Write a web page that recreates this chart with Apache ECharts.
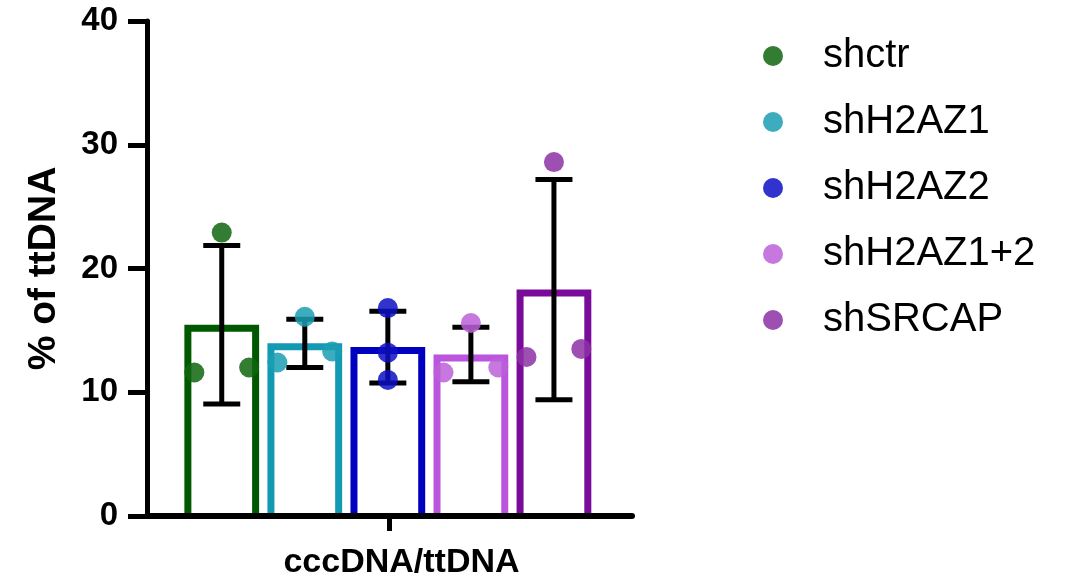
<!DOCTYPE html>
<html>
<head>
<meta charset="utf-8">
<script src="https://cdn.jsdelivr.net/npm/echarts@6/dist/echarts.min.js"></script>
<style>
html,body{margin:0;padding:0;background:#fff;}
#chart{width:1071px;height:582px;}
</style>
</head>
<body>
<div id="chart"></div>
<script>
// ---- data ----
var groups = ['shctr', 'shH2AZ1', 'shH2AZ2', 'shH2AZ1+2', 'shSRCAP'];
var category = ['cccDNA/ttDNA'];
var means = [15.45, 13.95, 13.65, 13.05, 18.3];
var sds = [6.4, 1.95, 2.9, 2.2, 8.9];
var points = [
  [22.9, 11.6, 12.0],
  [16.1, 12.4, 13.3],
  [16.8, 13.2, 11.0],
  [15.6, 11.6, 12.0],
  [28.6, 12.85, 13.5]
];
var pointOffsets = [
  [0, -0.33, 0.33],
  [0, -0.33, 0.33],
  [0, 0, 0],
  [0, -0.33, 0.33],
  [0, -0.33, 0.33]
];
var yTicks = [0, 10, 20, 30, 40];

// ---- styles ----
var barColors = ['#005800', '#129ab5', '#0000c0', '#bb55dd', '#7a0a9a'];
var pointColors = ['#0e660e', '#1a9db3', '#0e0ec4', '#bc60d8', '#8d31a5'];
var FONT = '"Liberation Sans", Arial, Helvetica, sans-serif';

var chart = echarts.init(document.getElementById('chart'), null, {renderer: 'canvas'});

var barData = means.map(function (m, i) { return {value: [i + 1, m], itemStyle: {color: barColors[i]}}; });
var errData = means.map(function (m, i) { return [i + 1, m, sds[i]]; });

var series = [];
series.push({
  type: 'custom',
  name: 'bars',
  xAxisIndex: 0,
  z: 2,
  data: barData,
  renderItem: function (params, api) {
    var x = api.value(0), v = api.value(1);
    var top = api.coord([x, v]);
    var base = api.coord([x, 0]);
    var w = api.size([0.9, 0])[0];
    var lw = 7;
    var l = top[0] - w / 2 + lw / 2, r = top[0] + w / 2 - lw / 2, t = top[1] + lw / 2;
    return {
      type: 'polyline',
      shape: {points: [[l, base[1]], [l, t], [r, t], [r, base[1]]]},
      style: {fill: null, stroke: api.visual('color'), lineWidth: lw, lineJoin: 'miter'}
    };
  }
});
series.push({
  type: 'custom',
  name: 'err',
  xAxisIndex: 0,
  z: 3,
  data: errData,
  renderItem: function (params, api) {
    var x = api.value(0), m = api.value(1), s = api.value(2);
    var hi = api.coord([x, m + s]);
    var lo = api.coord([x, m - s]);
    var hw = 18.5;
    var st = {stroke: '#000', lineWidth: 5};
    return {
      type: 'group',
      children: [
        {type: 'line', shape: {x1: hi[0], y1: hi[1], x2: lo[0], y2: lo[1]}, style: st},
        {type: 'line', shape: {x1: hi[0] - hw, y1: hi[1], x2: hi[0] + hw, y2: hi[1]}, style: st},
        {type: 'line', shape: {x1: lo[0] - hw, y1: lo[1], x2: lo[0] + hw, y2: lo[1]}, style: st}
      ]
    };
  }
});
groups.forEach(function (g, i) {
  series.push({
    type: 'scatter',
    name: g,
    xAxisIndex: 0,
    z: 4,
    symbol: 'circle',
    symbolSize: 20,
    itemStyle: {color: pointColors[i], opacity: 0.85},
    emphasis: {disabled: true},
    data: points[i].map(function (v, k) { return [i + 1 + pointOffsets[i][k], v]; })
  });
});

var option = {
  animation: false,
  backgroundColor: '#fff',
  grid: {left: 147, right: 439, top: 21, bottom: 66, containLabel: false},
  legend: {
    data: groups,
    orient: 'vertical',
    left: 758,
    top: 30,
    icon: 'circle',
    itemWidth: 20,
    itemHeight: 20,
    itemGap: 24,
    selectedMode: false,
    textStyle: {fontFamily: FONT, fontSize: 40, color: '#000', lineHeight: 42, padding: [0, 0, 0, 35]}
  },
  xAxis: [
    {
      type: 'value',
      min: 0.1,
      max: 5.94,
      position: 'bottom',
      z: 10,
      axisLine: {show: true, onZero: false, lineStyle: {color: '#000', width: 6}},
      axisTick: {show: false},
      axisLabel: {show: false},
      splitLine: {show: false}
    },
    {
      type: 'category',
      data: category,
      position: 'bottom',
      z: 10,
      axisLine: {show: false},
      axisTick: {show: true, alignWithLabel: true, length: 15, lineStyle: {color: '#000', width: 5}},
      axisLabel: {show: true, margin: 30, padding: [0, 0, 0, 24], fontFamily: FONT, fontSize: 34, fontWeight: 'bold', color: '#000'},
      splitLine: {show: false}
    }
  ],
  yAxis: {
    type: 'value',
    min: yTicks[0],
    max: yTicks[yTicks.length - 1],
    interval: 10,
    z: 10,
    name: '% of ttDNA',
    nameLocation: 'middle',
    nameGap: 83,
    nameTextStyle: {fontFamily: FONT, fontSize: 39, fontWeight: 'bold', color: '#000'},
    axisLine: {show: true, lineStyle: {color: '#000', width: 5}},
    axisTick: {show: true, length: 19, lineStyle: {color: '#000', width: 5}},
    axisLabel: {margin: 29, fontFamily: FONT, fontSize: 33, fontWeight: 'bold', color: '#000'},
    splitLine: {show: false}
  },
  series: series
};
chart.setOption(option);
</script>
</body>
</html>
